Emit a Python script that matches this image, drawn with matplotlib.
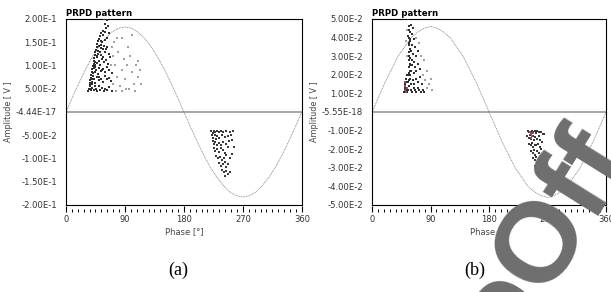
import matplotlib.pyplot as plt
from matplotlib.ticker import MultipleLocator

# reference sine (phase every 10 deg)
sine_phase = list(range(0, 361, 10))
sine_a = [0, .032, .063, .092, .118, .140, .158, .172, .180, .183, .180, .172, .158, .140, .118, .092, .063, .032, 0,
          -.032, -.063, -.092, -.118, -.140, -.158, -.172, -.180, -.183, -.180, -.172, -.158, -.140, -.118, -.092, -.063, -.032, 0]
sine_b = [0, .008, .016, .023, .030, .035, .040, .043, .045, .046, .045, .043, .040, .035, .030, .023, .016, .008, 0,
          -.008, -.016, -.023, -.030, -.035, -.040, -.043, -.045, -.046, -.045, -.043, -.040, -.035, -.030, -.023, -.016, -.008, 0]

# (a) positive half-cycle cluster
a_pos_phase = [34, 35, 36, 36, 37, 38, 38, 39, 40, 41, 42, 42, 43, 44, 45, 46, 47, 48, 49, 50, 52, 54, 56,
               38, 40, 42, 44, 46, 48, 50, 52, 55, 58, 60, 63, 66, 70,
               40, 43, 45, 47, 50, 53, 56, 59, 62, 65, 68,
               44, 46, 49, 51, 54, 57, 60, 63, 66, 70,
               47, 50, 52, 55, 58, 61, 64, 67,
               49, 52, 54, 57, 60, 63, 66,
               53, 55, 58, 60, 63, 56, 59, 61, 60, 62, 58, 64, 65,
               36, 37, 39, 41, 43, 45, 47, 49, 51, 53, 39, 41, 44, 48, 53, 57, 61, 45, 51, 55]
a_pos_amp = [.045, .05, .055, .062, .068, .074, .08, .086, .092, .098, .104, .11, .116, .122, .128, .134, .14, .146, .152, .158, .164, .17, .175,
             .048, .052, .047, .056, .05, .045, .055, .048, .052, .046, .05, .047, .053, .046,
             .065, .07, .063, .075, .068, .072, .065, .078, .07, .074, .066,
             .085, .09, .082, .095, .088, .093, .085, .097, .09, .083,
             .105, .11, .102, .115, .107, .112, .104, .118,
             .125, .13, .122, .135, .128, .14, .125,
             .145, .15, .142, .155, .16, .165, .172, .18, .19, .197, .2, .185, .17,
             .05, .058, .071, .083, .094, .108, .119, .131, .141, .152, .06, .078, .1, .12, .138, .118, .135, .096, .076, .09]
a_pos_sparse_phase = [72, 75, 78, 80, 82, 85, 88, 90, 93, 96, 98, 101, 104, 107, 110, 113, 95, 85, 74, 70,
                      100, 92, 76, 86, 105, 68, 72, 78, 110, 115]
a_pos_sparse_amp = [.06, .1, .075, .13, .055, .09, .115, .07, .1, .05, .12, .085, .06, .1, .075, .09, .14, .16, .15, .14,
                    .165, .05, .045, .045, .045, .1, .12, .16, .11, .06]

# (a) negative half-cycle cluster
a_neg_phase = [222, 224, 226, 228, 230, 233, 236, 240, 245, 250, 255,
               223, 225, 227, 229, 231, 234, 238, 242, 247, 252,
               224, 226, 228, 230, 233, 236, 240, 244, 249,
               226, 228, 231, 234, 237, 240, 243, 247,
               229, 232, 235, 238, 241, 245, 250,
               233, 236, 239, 242, 245, 248,
               238, 241, 244, 247, 243, 250, 253, 256, 254]
a_neg_amp = [-.04, -.045, -.04, -.043, -.04, -.042, -.04, -.044, -.041, -.043, -.04,
             -.05, -.055, -.05, -.058, -.052, -.056, -.05, -.054, -.052, -.05,
             -.062, -.068, -.064, -.07, -.066, -.072, -.064, -.068, -.062,
             -.078, -.084, -.08, -.086, -.078, -.082, -.088, -.076,
             -.094, -.1, -.096, -.104, -.098, -.092, -.1,
             -.11, -.116, -.112, -.108, -.118, -.112,
             -.124, -.13, -.126, -.134, -.137, -.128, -.06, -.075, -.09]

# (b) positive half-cycle cluster
b_pos_phase = [55, 55, 56, 56, 56, 57, 57, 57, 58, 56, 55, 58, 58, 59, 59, 57, 58, 57,
               49, 51, 52, 50, 53, 54, 60, 62, 64, 66, 68, 70, 72, 75, 78, 80, 52, 54, 60, 63, 65, 67, 70, 73, 76,
               60, 62, 64, 66, 68, 71, 74, 61, 63, 65, 68, 70, 62, 64, 66, 61, 63, 60,
               56, 57, 58, 59, 60, 56, 58, 55, 57, 59]
b_pos_amp = [.012, .016, .02, .024, .028, .032, .036, .04, .043, .046, .05, .018, .026, .034, .038, .014, .022, .03,
             .011, .013, .012, .015, .016, .011, .012, .011, .013, .012, .011, .013, .012, .011, .012, .011, .018, .02, .015, .017, .015, .018, .016, .019, .015,
             .022, .025, .021, .024, .022, .026, .023, .028, .031, .027, .03, .033, .036, .039, .035, .042, .045, .047,
             .017, .021, .025, .029, .033, .037, .039, .041, .044, .02]
b_pos_sparse_phase = [78, 82, 85, 88, 92, 80, 75, 72, 84, 90, 68, 53, 52, 54]
b_pos_sparse_amp = [.02, .017, .013, .015, .012, .028, .03, .037, .022, .018, .04, .03, .038, .044]
b_pos_red_phase = [50, 51, 52, 50, 53]
b_pos_red_amp = [.012, .014, .011, .016, .013]

# (b) negative half-cycle cluster
b_neg_phase = [240, 242, 244, 246, 248, 250, 252, 254, 257, 260, 263,
               239, 241, 243, 245, 247, 249, 251, 253, 256, 259,
               242, 244, 246, 248, 250, 252, 255, 258,
               245, 247, 249, 251, 253, 256, 260,
               248, 250, 252, 254, 257,
               250, 252, 254, 256, 253, 255, 265, 262]
b_neg_amp = [-.010, -.011, -.0105, -.01, -.011, -.0102, -.0115, -.01, -.011, -.0105, -.012,
             -.013, -.014, -.0125, -.0145, -.013, -.015, -.0135, -.0145, -.013, -.015,
             -.017, -.018, -.0165, -.019, -.0175, -.018, -.017, -.019,
             -.021, -.022, -.0205, -.023, -.021, -.022, -.02,
             -.025, -.026, -.024, -.027, -.025,
             -.029, -.03, -.028, -.031, -.033, -.034, -.012, -.016]
b_neg_red_phase = [243, 245, 247, 244, 246]
b_neg_red_amp = [-.0105, -.012, -.0115, -.014, -.013]

a_yticks = [.2, .15, .1, .05, 0, -.05, -.1, -.15, -.2]
a_ylabels = ['2.00E-1', '1.50E-1', '1.00E-1', '5.00E-2', '-4.44E-17', '-5.00E-2', '-1.00E-1', '-1.50E-1', '-2.00E-1']
b_yticks = [.05, .04, .03, .02, .01, 0, -.01, -.02, -.03, -.04, -.05]
b_ylabels = ['5.00E-2', '4.00E-2', '3.00E-2', '2.00E-2', '1.00E-2', '-5.55E-18',
             '-1.00E-2', '-2.00E-2', '-3.00E-2', '-4.00E-2', '-5.00E-2']

plt.rcParams['font.family'] = ['DejaVu Sans']
fig = plt.figure(figsize=(6.11, 2.92), dpi=100)
ax_a = fig.add_axes([0.108, 0.298, 0.386, 0.637])
ax_b = fig.add_axes([0.609, 0.298, 0.383, 0.637])

panels = [(ax_a, sine_a, 0.2, a_yticks, a_ylabels,
           [(a_pos_phase, a_pos_amp, '#303030'), (a_pos_sparse_phase, a_pos_sparse_amp, '#a0a0a0'),
            (a_neg_phase, a_neg_amp, '#3a3a3a')], '(a)', 0.291),
          (ax_b, sine_b, 0.05, b_yticks, b_ylabels,
           [(b_pos_phase, b_pos_amp, '#303030'), (b_pos_sparse_phase, b_pos_sparse_amp, '#a0a0a0'),
            (b_pos_red_phase, b_pos_red_amp, '#9a4a5c'), (b_neg_phase, b_neg_amp, '#3a3a3a'),
            (b_neg_red_phase, b_neg_red_amp, '#9a4a5c')], '(b)', 0.777)]

for ax, sine, lim, yt, yl, clouds, tag, xtag in panels:
    ax.plot(sine_phase, sine, color='#707070', lw=0.55, ls=(0, (1.2, 1.0)), zorder=2)
    ax.axhline(0, color='#a0a0a0', lw=1.3, zorder=1)
    for ph, amp, c in clouds:
        ax.scatter(ph, amp, s=0.8, marker='s', c=c, linewidths=0, zorder=3)
    ax.set_xlim(0, 360)
    ax.set_ylim(-lim, lim)
    ax.set_yticks(yt)
    ax.set_yticklabels(yl, fontsize=6.1, color='#333333')
    ax.tick_params(axis='y', length=0, pad=6.5)
    ax.set_xticks([])
    for s in ax.spines.values():
        s.set_linewidth(0.8)
    ax.set_title('PRPD pattern', loc='left', fontsize=6.2, fontweight='bold', pad=2, x=0.0)
    ax.set_ylabel('Amplitude [ V ]', fontsize=5.8, color='#444444', labelpad=2)
    # tick ruler drawn a little below the frame
    sec = ax.secondary_xaxis(-0.04)
    sec.spines['bottom'].set_visible(False)
    sec.xaxis.set_major_locator(MultipleLocator(90))
    sec.xaxis.set_minor_locator(MultipleLocator(9))
    sec.tick_params(which='major', direction='in', length=4, width=0.8, labelsize=6.0, pad=2, labelcolor='#333333')
    sec.tick_params(which='minor', direction='in', length=2, width=0.7)
    sec.set_xlabel('Phase [°]', fontsize=6.0, color='#444444', labelpad=2)
    fig.text(xtag, 0.075, tag, fontsize=13, family='Liberation Serif', ha='center', va='center')

# watermark on top
fig.text(0.892, 0.178, 'oOff', fontsize=82, fontweight='bold', family='Liberation Sans',
         color='#6e6e6e', rotation=58, rotation_mode='anchor', ha='center', va='center', zorder=10)

fig.savefig('out.png', dpi=100)
